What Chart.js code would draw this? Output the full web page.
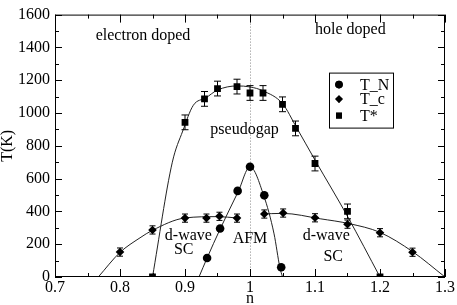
<!DOCTYPE html>
<html><head><meta charset="utf-8">
<script src="https://cdn.jsdelivr.net/npm/chart.js@4.4.1/dist/chart.umd.min.js"></script>
<style>html,body{margin:0;padding:0;background:#fff}#wrap{width:457px;height:305px}</style>
</head><body><div id="wrap"><canvas id="c" width="457" height="305"></canvas></div>
<script>
// ---- data ----
const TN_n = [0.934, 0.954, 0.981, 1.0, 1.022, 1.048];
const TN_T = [116, 296, 525, 672, 498, 59];

const Tc_n = [0.8, 0.85, 0.9, 0.933, 0.953, 0.98, 1.022, 1.051, 1.1, 1.15, 1.2, 1.25];
const Tc_T = [152, 287, 359, 359, 370, 359, 384, 390, 361, 322, 270, 151];
const Tc_err = [25, 25, 25, 25, 25, 25, 25, 25, 25, 25, 25, 25];

const Ts_n = [0.85, 0.9, 0.93, 0.95, 0.98, 1.0, 1.02, 1.05, 1.07, 1.1, 1.15, 1.2];
const Ts_T = [0, 943, 1086, 1149, 1161, 1122, 1122, 1053, 906, 692, 400, 0];
const Ts_err = [0, 45, 45, 45, 45, 45, 45, 45, 45, 45, 45, 0];

// fitted curves
const TNfit_n = [0.9215, 0.934, 0.954, 0.982, 1.0, 1.021, 1.037, 1.046, 1.05];
const TNfit_T = [0, 116, 292, 522, 672, 498, 263, 57, 0];
const TcfitL_n = [0.7666, 0.8, 0.8308, 0.85, 0.9, 0.95, 0.98];
const TcfitL_T = [0, 150, 239, 285, 360, 368, 360];
const TcfitR_n = [1.017, 1.05, 1.108, 1.153, 1.2, 1.25, 1.3];
const TcfitR_T = [384, 388, 355, 325, 272, 155, 0];
const Tsfit_n = [0.85, 0.8805, 0.8965, 0.9128, 0.932, 0.95, 0.98, 1.0, 1.02, 1.05, 1.0718, 1.1, 1.15, 1.2];
const Tsfit_T = [0, 700, 890, 1047, 1092, 1140, 1165, 1159, 1135, 1057, 910, 713, 370, 0];

// axes
const xMajor = [0.7, 0.8, 0.9, 1.0, 1.1, 1.2, 1.3];
const xMinor = [0.75, 0.85, 0.95, 1.05, 1.15, 1.25];
const yMajor = [0, 200, 400, 600, 800, 1000, 1200, 1400, 1600];
const yMinor = [100, 300, 500, 700, 900, 1100, 1300, 1500];

const seriesLabels = ['T_N', 'T_c', 'T*'];
const xTitle = 'n';
const yTitle = 'T(K)';

// text annotations: [text, n, T, align]
const notes = [
  ['electron doped', 0.7626, 1447, 'left'],
  ['hole doped', 1.1, 1482, 'left'],
  ['pseudogap', 0.939, 870, 'left'],
  ['d-wave', 0.869, 227, 'left'],
  ['SC', 0.898, 141, 'center'],
  ['AFM', 1.0, 210, 'center'],
  ['d-wave', 1.081, 223, 'left'],
  ['SC', 1.128, 100, 'center']
];

const FONT = "'Liberation Serif', serif";
const pts = (xs, ys) => xs.map((x, i) => ({x: x, y: ys[i]}));

const fitStyle = {type: 'line', showLine: true, pointRadius: 0, borderColor: '#222', borderWidth: 1,
  cubicInterpolationMode: 'monotone', fill: false};

const helper = {
  id: 'helper',
  beforeDatasetsDraw(chart) {
    const {ctx, chartArea: a, scales: {x}} = chart;
    const px = Math.round(x.getPixelForValue(1.0)) + 0.5;
    ctx.save();
    ctx.strokeStyle = '#888'; ctx.lineWidth = 1; ctx.setLineDash([1, 2]);
    ctx.beginPath(); ctx.moveTo(px, a.top); ctx.lineTo(px, a.bottom); ctx.stroke();
    ctx.restore();
  },
  afterDatasetsDraw(chart) {
    const {ctx, scales: {x, y}} = chart;
    ctx.save();
    ctx.strokeStyle = '#000'; ctx.lineWidth = 1;
    const bars = (ns, ts, es, cap) => {
      ns.forEach((n, i) => {
        if (!es[i]) return;
        const px = x.getPixelForValue(n);
        const y1 = y.getPixelForValue(ts[i] + es[i]);
        const y2 = y.getPixelForValue(ts[i] - es[i]);
        ctx.beginPath();
        ctx.moveTo(px, y1); ctx.lineTo(px, y2);
        ctx.moveTo(px - cap, y1); ctx.lineTo(px + cap, y1);
        ctx.moveTo(px - cap, y2); ctx.lineTo(px + cap, y2);
        ctx.stroke();
      });
    };
    bars(Ts_n, Ts_T, Ts_err, 3.5);
    bars(Tc_n, Tc_T, Tc_err, 3);
    ctx.restore();
  },
  afterDraw(chart) {
    const {ctx, chartArea: a, scales: {x, y}} = chart;
    ctx.save();
    // frame
    ctx.strokeStyle = '#000'; ctx.lineWidth = 1;
    ctx.strokeRect(a.left + 0.5, a.top + 0.5, a.right - a.left - 1, a.bottom - a.top - 1);
    // inward ticks on all four sides
    ctx.beginPath();
    const tx = (vals, len) => vals.forEach(v => {
      const p = Math.round(x.getPixelForValue(v)) + 0.5;
      ctx.moveTo(p, a.bottom); ctx.lineTo(p, a.bottom - len);
      ctx.moveTo(p, a.top); ctx.lineTo(p, a.top + len);
    });
    const ty = (vals, len) => vals.forEach(v => {
      const p = Math.round(y.getPixelForValue(v)) + 0.5;
      ctx.moveTo(a.left, p); ctx.lineTo(a.left + len, p);
      ctx.moveTo(a.right, p); ctx.lineTo(a.right - len, p);
    });
    tx(xMajor, 8); tx(xMinor, 4); ty(yMajor, 7); ty(yMinor, 4);
    ctx.stroke();
    // annotations
    ctx.fillStyle = '#000';
    ctx.font = '16px ' + FONT;
    ctx.textBaseline = 'alphabetic';
    notes.forEach(([t, n, T, al]) => {
      ctx.textAlign = al;
      ctx.fillText(t, x.getPixelForValue(n), y.getPixelForValue(T));
    });
    // legend
    const lx = a.right - 116, ly = a.top + 58, lw = 64, lh = 55;
    ctx.fillStyle = '#fff';
    ctx.fillRect(lx, ly, lw, lh);
    ctx.strokeStyle = '#000';
    ctx.strokeRect(lx + 0.5, ly + 0.5, lw, lh);
    const rows = [12, 26.5, 43];
    const styles = ['circle', 'rectRot', 'rect'];
    const radii = [3.8, 3.8, 4.2];
    ctx.textAlign = 'left';
    seriesLabels.forEach((lab, i) => {
      const cy = ly + rows[i];
      ctx.fillStyle = '#000';
      Chart.helpers.drawPoint(ctx, {pointStyle: styles[i], radius: radii[i], borderWidth: 0}, lx + 10, cy);
      ctx.fill();
      ctx.fillText(lab, lx + 31, cy + 5);
    });
    ctx.restore();
  }
};

new Chart(document.getElementById('c'), {
  type: 'scatter',
  data: {
    datasets: [
      {label: seriesLabels[0], data: pts(TN_n, TN_T), pointStyle: 'circle', pointRadius: 4.3,
        backgroundColor: '#000', borderColor: '#000', borderWidth: 0},
      {label: seriesLabels[1], data: pts(Tc_n, Tc_T), pointStyle: 'rectRot', pointRadius: 4.3,
        backgroundColor: '#000', borderColor: '#000', borderWidth: 0},
      {label: seriesLabels[2], data: pts(Ts_n, Ts_T), pointStyle: 'rect', pointRadius: 4.8,
        backgroundColor: '#000', borderColor: '#000', borderWidth: 0},
      Object.assign({label: 'fit T_N', data: pts(TNfit_n, TNfit_T)}, fitStyle),
      Object.assign({label: 'fit T_c (e)', data: pts(TcfitL_n, TcfitL_T)}, fitStyle),
      Object.assign({label: 'fit T_c (h)', data: pts(TcfitR_n, TcfitR_T)}, fitStyle),
      Object.assign({label: 'fit T*', data: pts(Tsfit_n, Tsfit_T)}, fitStyle)
    ]
  },
  options: {
    responsive: false, animation: false, devicePixelRatio: 1,
    layout: {padding: {top: 6, right: 12, left: 0, bottom: 0}},
    plugins: {legend: {display: false}, tooltip: {enabled: false}},
    scales: {
      x: {
        type: 'linear', min: 0.7, max: 1.3,
        afterFit(s) { s.height = 28; },
        afterBuildTicks(s) { s.ticks = xMajor.map(v => ({value: v})); },
        ticks: {autoSkip: false, maxRotation: 0, padding: 1, color: '#000',
          font: {family: FONT, size: 16}, callback: v => String(+v.toFixed(2))},
        grid: {display: false, drawTicks: false, tickLength: 0}, border: {display: false},
        title: {display: true, text: xTitle, color: '#000', padding: {top: 0, bottom: -2},
          font: {family: FONT, size: 16, lineHeight: 1}}
      },
      y: {
        type: 'linear', min: 0, max: 1600,
        afterFit(s) { s.width = 55; },
        afterBuildTicks(s) { s.ticks = yMajor.map(v => ({value: v})); },
        ticks: {autoSkip: false, padding: 5, color: '#000',
          font: {family: FONT, size: 16}, callback: v => String(v)},
        grid: {display: false, drawTicks: false, tickLength: 0}, border: {display: false},
        title: {display: true, text: yTitle, color: '#000', padding: 0,
          font: {family: FONT, size: 16, lineHeight: 1}}
      }
    }
  },
  plugins: [helper]
});
</script></body></html>
